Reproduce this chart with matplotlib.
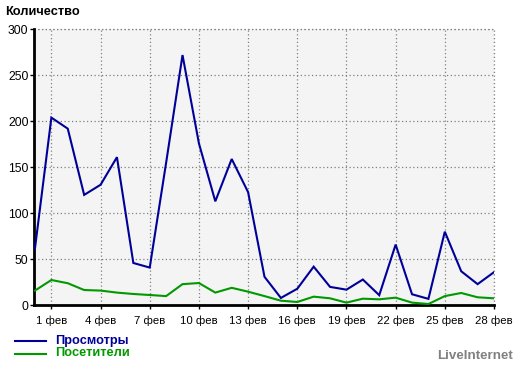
import matplotlib
matplotlib.use("Agg")
import matplotlib.pyplot as plt
from matplotlib.lines import Line2D

plt.rcParams['font.family'] = ['Liberation Sans', 'DejaVu Sans']

days = list(range(0, 29))
views = [62, 204, 192, 120, 131, 161, 46, 41, 155, 272, 176, 113, 159, 123, 31, 8,
         18, 42, 20, 17, 28, 11, 66, 12, 7, 80, 37, 23, 36]
visitors = [16, 27.5, 24, 16.6, 16, 13.8, 12.3, 11.2, 10, 23, 24.2, 13.8, 19, 14.8, 10, 5,
            3.6, 9.4, 7.6, 2.9, 7.2, 6.5, 8.3, 2.9, 1.4, 10, 13.4, 8.7, 7.6]
tick_days = [1, 4, 7, 10, 13, 16, 19, 22, 25, 28]
tick_labels = [f"{d} фев" for d in tick_days]
yticks = [0, 50, 100, 150, 200, 250, 300]
series_names = ["Просмотры", "Посетители"]
blue = "#000099"
green = "#009900"

fig = plt.figure(figsize=(5.2, 3.66), dpi=100)
ax = fig.add_axes([34/520, 1 - 305.3/366, (494-34)/520, (305.3-29.3)/366])
ax.set_facecolor("#f4f4f4")

ax.plot(days, views, color=blue, lw=1.5, zorder=3, solid_joinstyle='miter')
ax.plot(days, visitors, color=green, lw=1.5, zorder=3, solid_joinstyle='miter')

ax.set_xlim(-0.06, 28)
ax.set_ylim(0, 300)
ax.set_xticks(tick_days)
ax.set_xticklabels(tick_labels, fontsize=8.2)
ax.set_yticks(yticks)
ax.set_yticklabels([str(v) for v in yticks], fontsize=8.7)
ax.tick_params(axis='y', length=3, width=1, color='black', pad=1)
ax.tick_params(axis='x', length=3, width=1, color='black', pad=4.5)
ax.grid(True, color='#808080', linestyle=(0, (1, 2)), linewidth=0.9)
for s in ['top', 'right']:
    ax.spines[s].set_visible(False)
ax.spines['left'].set_linewidth(2)
ax.spines['bottom'].set_linewidth(2)
# top and right dotted borders
ax.axhline(300, color='#808080', linestyle=(0, (1, 2)), linewidth=0.9, clip_on=False)
ax.axvline(28, color='#808080', linestyle=(0, (1, 2)), linewidth=0.9, clip_on=False)

fig.text(5/520, 1 - 12/366, "Количество", fontsize=9.2, fontweight='bold', va='center', ha='left')

# legend
for i, (name, col) in enumerate(zip(series_names, [blue, green])):
    y = 1 - (341 + i * 12.5) / 366
    fig.add_artist(Line2D([15/520, 45.5/520], [y, y], color=col, lw=1.5, transform=fig.transFigure))
    fig.text(55.5/520, y, name, color=col, fontsize=9.2, fontweight='bold', va='center', ha='left')

fig.text(513/520, 1 - 356/366, "LiveInternet", color='#808080', fontsize=9.6,
         fontweight='bold', va='center', ha='right')

fig.savefig("out.png", dpi=100)
